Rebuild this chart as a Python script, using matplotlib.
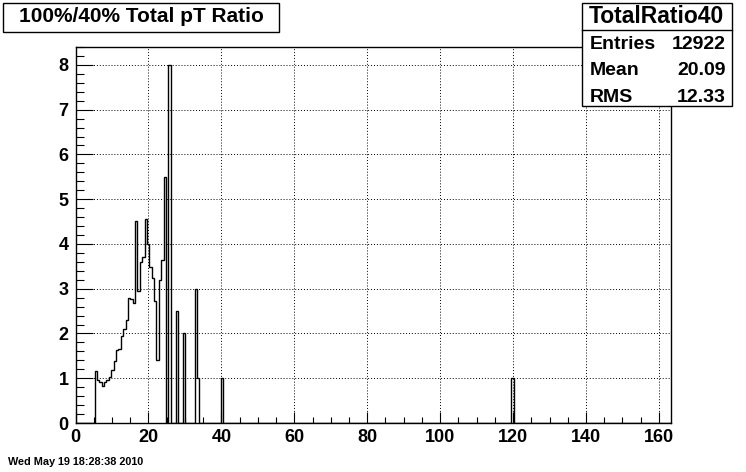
import numpy as np
import matplotlib
matplotlib.use("Agg")
import matplotlib.pyplot as plt
from matplotlib.patches import Rectangle
from matplotlib.ticker import MultipleLocator

# Histogram: 250 bins over 0 .. 163.3
n_bins = 250
x_min, x_max = 0.0, 163.3

# filled bins (bin index -> content)
curve_start_bin = 8
curve_values = [1.16, 0.97, 0.92, 0.82, 0.92, 0.97, 1.03, 1.18, 1.38, 1.63,
                1.65, 1.94, 2.09, 2.30, 2.80, 2.78, 2.67, 4.52, 2.95, 3.60,
                3.70, 4.55, 4.00, 3.49, 3.23, 2.72, 1.40, 3.19, 3.65, 5.49,
                0.0, 8.0]
spike_bins = [42, 45, 50, 51, 61, 183]
spike_values = [2.5, 2.0, 3.0, 1.0, 1.0, 1.0]

hist_name = "TotalRatio40"
title = "100%/40% Total pT Ratio"
stats_labels = ["Entries", "Mean", "RMS"]
stats_values = ["12922", "20.09", "12.33"]
date_text = "Wed May 19 18:28:38 2010"

counts = np.zeros(n_bins)
counts[curve_start_bin:curve_start_bin + len(curve_values)] = curve_values
counts[spike_bins] = spike_values
edges = np.linspace(x_min, x_max, n_bins + 1)

plt.rcParams.update({
    "font.family": ["Liberation Sans", "DejaVu Sans"],
    "font.weight": "bold",
})

W, H = 746, 472
fig = plt.figure(figsize=(W / 100, H / 100), dpi=100)
fig.patch.set_facecolor("white")

left, right, top, bottom = 75.5, 671.0, 47.0, 423.0
ax = fig.add_axes([left / W, 1 - bottom / H, (right - left) / W, (bottom - top) / H])

ax.stairs(counts, edges, color="black", linewidth=1.0)

ax.set_xlim(x_min, x_max)
ax.set_ylim(0, 8.4)

ax.xaxis.set_major_locator(MultipleLocator(20))
ax.xaxis.set_minor_locator(MultipleLocator(5))
ax.yaxis.set_major_locator(MultipleLocator(1))
ax.yaxis.set_minor_locator(MultipleLocator(0.2))

ax.tick_params(axis="x", which="major", direction="in", length=8, width=0.8,
               labelsize=13, pad=4, top=False)
ax.tick_params(axis="x", which="minor", direction="in", length=4, width=0.8, top=False)
ax.tick_params(axis="y", which="major", direction="in", length=12.5, width=0.8,
               labelsize=13, pad=5, right=False)
ax.tick_params(axis="y", which="minor", direction="in", length=6, width=0.8, right=False)
for lab in ax.get_xticklabels() + ax.get_yticklabels():
    lab.set_fontweight("bold")

ax.grid(True, which="major", color="black", linestyle=(0, (1, 2)), linewidth=0.7)
ax.set_axisbelow(True)
for s in ax.spines.values():
    s.set_color("black")
    s.set_linewidth(1.0)

def fx(px):
    return px / W

def fy(py):
    return 1 - py / H

# title box
fig.patches.append(Rectangle((fx(3), fy(31.5)), fx(276), 29 / H, transform=fig.transFigure,
                             facecolor="white", edgecolor="black", linewidth=1.0, zorder=5))
fig.text(fx(141), fy(17), title, ha="center", va="center", fontsize=15,
         fontweight="bold", zorder=6)

# stats box
fig.patches.append(Rectangle((fx(581.5), fy(106)), fx(150), 103.5 / H, transform=fig.transFigure,
                             facecolor="white", edgecolor="black", linewidth=1.0, zorder=5))
fig.lines.append(plt.Line2D([fx(581.5), fx(731.5)], [fy(30), fy(30)], transform=fig.transFigure,
                            color="black", linewidth=1.0, zorder=6))
fig.text(fx(656.5), fy(16.5), hist_name, ha="center", va="center", fontsize=16.5,
         fontweight="bold", zorder=6)
for i, (lab, val) in enumerate(zip(stats_labels, stats_values)):
    y = fy(44.5 + i * 26.5)
    fig.text(fx(590), y, lab, ha="left", va="center", fontsize=14, fontweight="bold", zorder=6)
    fig.text(fx(726), y, val, ha="right", va="center", fontsize=14, fontweight="bold", zorder=6)

fig.text(fx(8), fy(462), date_text, ha="left", va="center", fontsize=7.8, fontweight="bold")

fig.savefig("out.png", dpi=100, facecolor="white")
